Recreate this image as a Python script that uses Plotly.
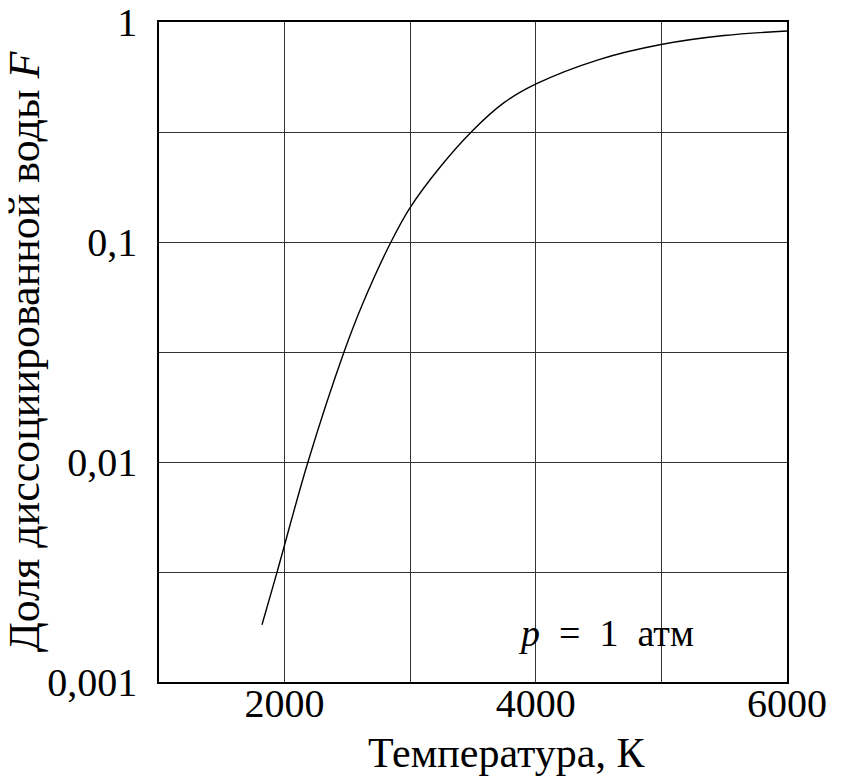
import plotly.graph_objects as go

# Data
temperature_K = [1820, 1940, 2186, 2473, 2624, 2847, 2998, 3245, 3492, 3747, 4002, 4503, 4997, 5498, 6000]
fraction_F = [0.00182, 0.00316, 0.0100, 0.0316, 0.0528, 0.100, 0.143, 0.2215, 0.319, 0.430, 0.523, 0.675, 0.790, 0.868, 0.910]

x_tickvals = [1000, 2000, 3000, 4000, 5000, 6000]
x_ticktext = ["", "2000", "", "4000", "", "6000"]
y_tickvals = [0.001, 0.00316, 0.01, 0.0316, 0.1, 0.316, 1]
y_ticktext = ["0,001", "", "0,01", "", "0,1", "", "1"]

FONT = "Liberation Serif"

fig = go.Figure()
fig.add_trace(go.Scatter(
    x=temperature_K, y=fraction_F, mode="lines",
    line=dict(color="black", width=1.4, shape="spline", smoothing=1.0),
    showlegend=False, hoverinfo="skip",
))

fig.add_annotation(
    text="<i>p</i>\u00a0 = \u00a01\u00a0 атм", xref="paper", yref="paper", x=0.712, y=0.075,
    xanchor="center", yanchor="middle", showarrow=False,
    font=dict(family=FONT, size=38, color="black"),
)
# x-axis title (placed slightly right of centre, as in the reference)
fig.add_annotation(
    text="Температура, К", xref="paper", yref="paper", x=0.554, y=0,
    xanchor="center", yanchor="top", yshift=-46, showarrow=False,
    font=dict(family=FONT, size=42, color="black"),
)

fig.update_layout(
    width=841, height=780,
    margin=dict(l=159, r=54, t=22, b=98, autoexpand=False),
    paper_bgcolor="white", plot_bgcolor="white",
    font=dict(family=FONT, size=40, color="black"),
    xaxis=dict(
        range=[1000, 6000], tickvals=x_tickvals, ticktext=x_ticktext,
        showgrid=True, gridcolor="#333333", gridwidth=1.3,
        showline=True, linecolor="black", linewidth=1.5, mirror=True,
        ticks="", ticklabelstandoff=-15, zeroline=False, automargin=False,
        tickfont=dict(family=FONT, size=40),
    ),
    yaxis=dict(
        type="log", range=[-3, 0], tickvals=y_tickvals, ticktext=y_ticktext,
        showgrid=True, gridcolor="#333333", gridwidth=1.3,
        showline=True, linecolor="black", linewidth=1.5, mirror=True,
        ticks="", ticklabelstandoff=12, zeroline=False, automargin=False,
        tickfont=dict(family=FONT, size=40),
        title=dict(text="Доля диссоциированной воды <i>F</i>", font=dict(family=FONT, size=44), standoff=10),
    ),
)

fig.write_html("out.html")
